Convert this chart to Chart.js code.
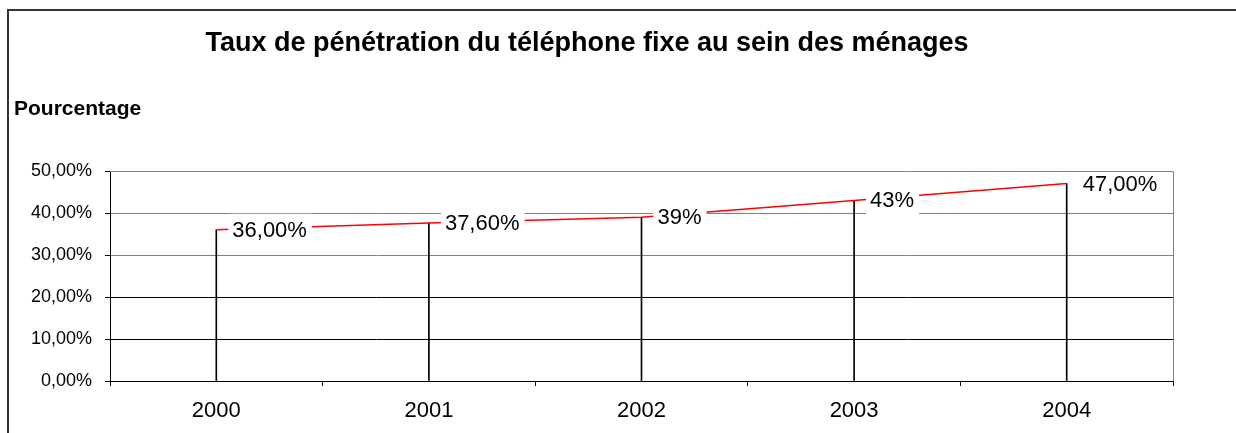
<!DOCTYPE html>
<html>
<head>
<meta charset="utf-8">
<script src="https://cdn.jsdelivr.net/npm/chart.js@4"></script>
<style>
  html, body { margin: 0; padding: 0; background: #fff; }
</style>
</head>
<body>
<canvas id="penetrationChart" width="1236" height="433"></canvas>
<script>
const years = ['2000', '2001', '2002', '2003', '2004']
const rates = [36, 37.6, 39, 43, 47]
const rateLabels = ['36,00%', '37,60%', '39%', '43%', '47,00%']
const yTicks = [0, 10, 20, 30, 40, 50]
const chartTitle = 'Taux de pénétration du téléphone fixe au sein des ménages'
const axisTitle = 'Pourcentage'

const FONT = '"Liberation Sans", Arial, sans-serif'

// frame, titles, value labels and the grey plot border are drawn here
const decorations = {
  id: 'decorations',
  beforeDraw(chart) {
    const ctx = chart.ctx
    ctx.save()
    ctx.fillStyle = '#fff'
    ctx.fillRect(0, 0, chart.width, chart.height)
    ctx.strokeStyle = '#333'
    ctx.lineWidth = 2
    ctx.beginPath()
    ctx.moveTo(8, chart.height)
    ctx.lineTo(8, 10)
    ctx.lineTo(chart.width, 10)
    ctx.stroke()

    ctx.fillStyle = '#000'
    ctx.textBaseline = 'alphabetic'
    ctx.font = 'bold 27px ' + FONT
    ctx.textAlign = 'center'
    ctx.fillText(chartTitle, 587, 51)
    ctx.font = 'bold 21px ' + FONT
    ctx.textAlign = 'left'
    ctx.fillText(axisTitle, 14, 115)
    ctx.restore()
  },
  afterDatasetsDraw(chart) {
    const ctx = chart.ctx
    const meta = chart.getDatasetMeta(0)
    ctx.save()
    ctx.font = '22px ' + FONT
    ctx.textBaseline = 'middle'
    ctx.textAlign = 'left'
    meta.data.forEach((pt, i) => {
      const text = rateLabels[i]
      const w = ctx.measureText(text).width
      const x = pt.x + 16
      ctx.fillStyle = '#fff'
      ctx.fillRect(x - 4, pt.y - 16, w + 9, 32)
      ctx.fillStyle = '#000'
      ctx.fillText(text, x, pt.y + 1)
    })
    ctx.restore()
  },
  afterDraw(chart) {
    const { left, right, top, bottom } = chart.chartArea
    const ctx = chart.ctx
    ctx.save()
    ctx.strokeStyle = '#808080'
    ctx.lineWidth = 1
    ctx.beginPath()
    ctx.moveTo(left, top + 0.5)
    ctx.lineTo(right + 0.5, top + 0.5)
    ctx.lineTo(right + 0.5, bottom)
    ctx.stroke()
    ctx.restore()
  }
}

new Chart(document.getElementById('penetrationChart'), {
  type: 'bar',
  data: {
    labels: years,
    datasets: [
      {
        type: 'line',
        data: rates,
        borderColor: '#ff0000',
        borderWidth: 1.5,
        pointRadius: 0,
        tension: 0,
      },
      {
        // drop lines from each point to the axis
        type: 'bar',
        data: rates,
        backgroundColor: '#000',
        barThickness: 1,
      },
    ],
  },
  options: {
    responsive: false,
    animation: false,
    layout: { padding: { top: 171, right: 63, left: 0, bottom: 0 } },
    plugins: {
      legend: { display: false },
      tooltip: { enabled: false },
      title: { display: false },
    },
    scales: {
      x: {
        offset: true,
        afterFit(scale) { scale.height = 52 },
        grid: { offset: true, drawOnChartArea: false, tickLength: 5, tickColor: '#000' },
        border: { color: '#000', width: 1 },
        ticks: { color: '#000', font: { family: FONT, size: 22 }, padding: 12 },
      },
      y: {
        min: 0,
        max: 50,
        afterFit(scale) { scale.width = 110 },
        afterBuildTicks(scale) { scale.ticks = yTicks.map(v => ({ value: v })) },
        grid: {
          color: (c) => (c.tick && c.tick.value >= 30 ? '#808080' : '#000'),
          tickColor: '#000',
          tickLength: 5,
        },
        border: { color: '#000', width: 1 },
        ticks: {
          color: '#000',
          font: { family: FONT, size: 18 },
          padding: 13,
          callback: (v) => v.toFixed(2).replace('.', ',') + '%',
        },
      },
    },
  },
  plugins: [decorations],
})
</script>
</body>
</html>
